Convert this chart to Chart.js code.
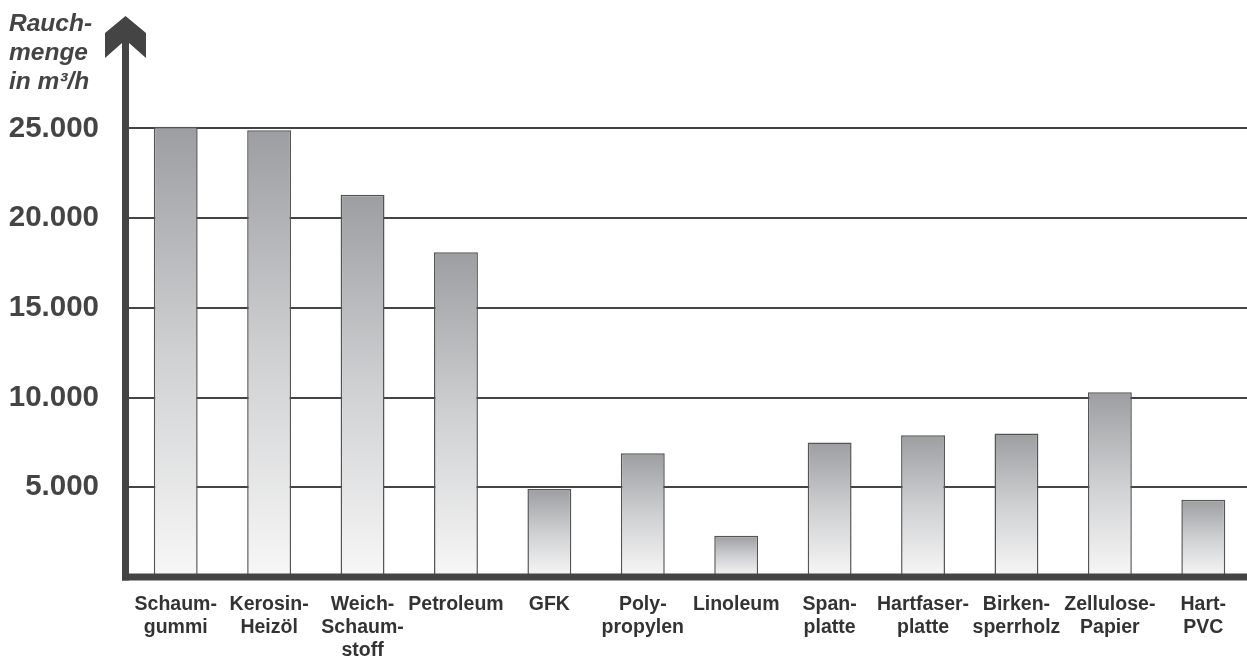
<!DOCTYPE html>
<html>
<head>
<meta charset="utf-8">
<script src="https://cdn.jsdelivr.net/npm/chart.js@4/dist/chart.umd.min.js"></script>
<style>
  html, body { margin: 0; padding: 0; background: #fff; overflow: hidden; }
  #wrap { width: 1250px; height: 659px; position: relative; }
</style>
</head>
<body>
<div id="wrap"><canvas id="chart"></canvas></div>
<script>
/* ---- Daten ---- */
const materials = [
  ['Schaum-', 'gummi'], ['Kerosin-', 'Heizöl'], ['Weich-', 'Schaum-', 'stoff'], 'Petroleum', 'GFK',
  ['Poly-', 'propylen'], 'Linoleum', ['Span-', 'platte'], ['Hartfaser-', 'platte'],
  ['Birken-', 'sperrholz'], ['Zellulose-', 'Papier'], ['Hart-', 'PVC']
];
const smokeVolume = [25100, 24900, 21300, 18100, 4900, 6900, 2300, 7500, 7900, 8000, 10300, 4300];
const yTicks = [5000, 10000, 15000, 20000, 25000];
const yTitle = ['Rauch-', 'menge', 'in m³/h'];

const INK = '#444444';

/* ---- Verlauf pro Balken ---- */
function barGradient(ctx) {
  const chart = ctx.chart;
  if (!chart.chartArea) return '#c0c1c3';
  const y = chart.scales.y;
  const top = y.getPixelForValue(ctx.raw);
  const bot = y.getPixelForValue(0);
  const g = chart.ctx.createLinearGradient(0, top, 0, bot);
  g.addColorStop(0, '#9c9ea1');
  g.addColorStop(0.5, '#cfd0d2');
  g.addColorStop(1, '#f7f7f7');
  return g;
}

/* ---- Achsen mit Pfeil + Titel ---- */
const axisPlugin = {
  id: 'axisArrow',
  afterDatasetsDraw(chart) {
    const { ctx, chartArea } = chart;
    const ax = chartArea.left - 3.5;
    ctx.save();
    ctx.fillStyle = INK;
    // x-Achse
    ctx.fillRect(ax - 3.5, chartArea.bottom - 3.5, chartArea.right - ax + 3.5, 7);
    // y-Achse
    ctx.fillRect(ax - 3.5, 40, 7, chartArea.bottom + 3.5 - 40);
    // Pfeilspitze
    ctx.beginPath();
    ctx.moveTo(ax, 16);
    ctx.lineTo(ax + 20.5, 33);
    ctx.lineTo(ax + 20.5, 58);
    ctx.lineTo(ax + 3.5, 43);
    ctx.lineTo(ax - 3.5, 43);
    ctx.lineTo(ax - 20.5, 58);
    ctx.lineTo(ax - 20.5, 33);
    ctx.closePath();
    ctx.fill();
    // Titel
    ctx.font = 'italic bold 24.5px "Liberation Sans", Arial, sans-serif';
    ctx.textAlign = 'left';
    ctx.textBaseline = 'alphabetic';
    yTitle.forEach((line, i) => ctx.fillText(line, 9, 31 + i * 29));
    ctx.restore();
  }
};

new Chart(document.getElementById('chart'), {
  type: 'bar',
  data: {
    labels: materials,
    datasets: [{
      data: smokeVolume,
      backgroundColor: barGradient,
      borderColor: '#555555',
      borderWidth: 1.5,
      borderSkipped: 'bottom',
      barPercentage: 0.47,
      categoryPercentage: 1
    }]
  },
  options: {
    responsive: true,
    maintainAspectRatio: false,
    animation: false,
    layout: { padding: { top: 31, right: 0, left: 0, bottom: 0 } },
    plugins: { legend: { display: false }, tooltip: { enabled: false } },
    scales: {
      x: {
        grid: { display: false, drawTicks: false },
        border: { display: false },
        ticks: {
          color: '#333',
          font: { family: '"Liberation Sans", Arial, sans-serif', size: 19.5, weight: 'bold', lineHeight: 1.18 },
          padding: 16,
          maxRotation: 0,
          autoSkip: false
        },
        afterFit: s => { s.height = 82; }
      },
      y: {
        min: 0,
        max: 29500,
        afterBuildTicks: s => { s.ticks = yTicks.map(v => ({ value: v })); },
        grid: { color: INK, lineWidth: 2, drawTicks: false },
        border: { display: false },
        ticks: {
          color: INK,
          font: { family: '"Liberation Sans", Arial, sans-serif', size: 29.5, weight: 'bold' },
          padding: 30,
          callback: v => v.toLocaleString('de-DE')
        },
        afterFit: s => { s.width = 129; }
      }
    }
  },
  plugins: [axisPlugin]
});
</script>
</body>
</html>
